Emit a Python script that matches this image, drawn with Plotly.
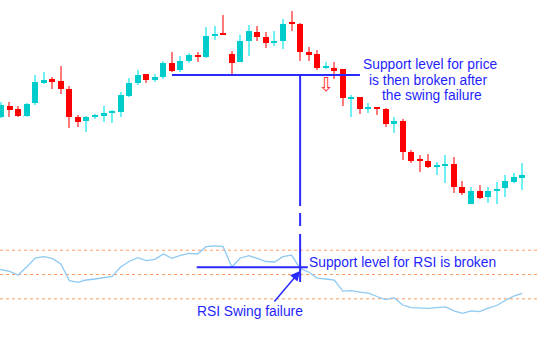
import plotly.graph_objects as go

W, H = 537, 345

candle_index = list(range(62))
open_ = [133, 144.3, 141, 134, 147, 167, 171, 169, 161, 133,
         129, 133, 134, 137, 138, 154, 166.7, 176, 170, 173,
         187.5, 180, 189, 195, 193, 214, 217, 196, 188, 209,
         218, 213, 207, 209, 227, 226, 198, 196, 182.5, 182,
         180.7, 151, 153, 141, 142, 141, 126, 129, 98, 90,
         89, 83, 84.3, 86, 63, 46, 59, 53, 59, 62,
         68, 72]
close = [145, 140, 134, 146, 168, 170, 168, 161, 133, 128,
         133, 135, 137, 138, 155, 167, 175.5, 170, 173, 187.5,
         179, 189, 195, 192.7, 214, 216, 215, 187, 209, 219,
         213, 207, 208.5, 226, 226, 198, 195, 182, 183, 179,
         152, 152.5, 141, 142, 141, 126, 129, 98, 89, 89,
         83, 85, 86.3, 63, 57, 59, 52, 59, 61, 69,
         73, 75]
high = [148, 148, 144, 147, 175, 178, 173, 184, 164, 135,
        134, 136, 144, 140, 158, 172, 180, 176, 176.5, 189,
        198, 194, 197, 198, 223, 224, 235, 199, 215, 225,
        224, 218, 219, 231, 239, 227, 203, 200, 188, 188,
        181, 155, 153, 147, 142, 142, 133, 131, 100, 95,
        96, 88, 95, 93, 69, 63, 65, 63, 68, 75,
        77, 87]
low = [132, 133, 133.5, 133, 145, 166.5, 161, 156, 122, 123,
       118, 131, 128, 127, 133, 153, 165, 167, 168, 171,
       178, 178, 187, 188, 192, 210, 215, 175, 188, 194,
       209, 202, 204, 201, 219, 189, 189, 180, 181, 171,
       144, 133, 136, 137, 135, 123, 117, 90, 87, 78,
       82, 75, 67, 57, 55, 46, 51, 47, 46, 53,
       67, 60]
rsi = [54.1, 52.5, 49.6, 56.2, 63.6, 64.7, 63.2, 58.6, 45.0, 43.6,
       45.5, 46.3, 47.1, 48.4, 56.2, 60.7, 63.8, 61.4, 62.5, 66.9,
       63.3, 65.8, 67.4, 66.9, 72.9, 73.5, 72.9, 56.2, 63.6, 65.5,
       63.2, 60.7, 60.3, 64.7, 66.0, 55.0, 52.1, 47.1, 46.3, 45.5,
       36.4, 36.7, 35.6, 34.6, 31.9, 29.4, 30.9, 24.9, 22.7, 22.3,
       22.2, 22.8, 23.3, 20.1, 18.1, 20.0, 19.4, 22.4, 24.5, 28.6,
       32.3, 34.5]
rsi_levels = [70, 50, 30]
price_support = 175.0
price_support_span = [20, 42]
rsi_support = 56.0
rsi_support_span = [22.9, 35.9]
break_index = 35

labels_price = ["Support level for price", "is then broken after", "the swing failure"]
label_rsi_break = "Support level for RSI is broken"
label_rsi_fail = "RSI Swing failure"

BULL = "#00cccc"
BEAR = "#ff0000"
BULL_WICK = "#6ff0f5"
BEAR_WICK = "#ff7a7a"
BLUE = "#2a2aff"
TXT = "#1f1fff"

bull = [c >= o for o, c in zip(open_, close)]

fig = go.Figure()
# wicks
for flag, col in [(True, BULL_WICK), (False, BEAR_WICK)]:
    xs = [i for i, b in zip(candle_index, bull) if b == flag]
    fig.add_trace(go.Bar(
        x=xs,
        y=[high[i] - low[i] for i in xs],
        base=[low[i] for i in xs],
        width=0.13, marker=dict(color=col, line=dict(width=0)),
        hoverinfo="skip", showlegend=False))
# bodies
for flag, col in [(True, BULL), (False, BEAR)]:
    xs = [i for i, b in zip(candle_index, bull) if b == flag]
    fig.add_trace(go.Bar(
        x=xs,
        y=[max(abs(close[i] - open_[i]), 1.2) for i in xs],
        base=[min(open_[i], close[i]) for i in xs],
        width=0.7, marker=dict(color=col, line=dict(width=0)),
        hoverinfo="skip", showlegend=False))

fig.add_trace(go.Scatter(
    x=[-0.12] + candle_index, y=[rsi[0]] + rsi, yaxis="y2", mode="lines",
    line=dict(color="#8ec9f2", width=1.3), showlegend=False, hoverinfo="skip"))

shapes = []
for lv in rsi_levels:
    shapes.append(dict(type="line", xref="paper", x0=0, x1=1, yref="y2", y0=lv, y1=lv,
                       line=dict(color="#ff9a5c", width=1, dash="dot"), layer="below"))
shapes.append(dict(type="line", xref="x", x0=price_support_span[0], x1=price_support_span[1],
                   yref="y", y0=price_support, y1=price_support, line=dict(color=BLUE, width=2)))
shapes.append(dict(type="line", xref="x", x0=rsi_support_span[0], x1=rsi_support_span[1],
                   yref="y2", y0=rsi_support, y1=rsi_support, line=dict(color=BLUE, width=2)))
# vertical connector (broken)
for a, b in [(74.7, 206), (213, 226), (234, 282)]:
    shapes.append(dict(type="line", xref="x", x0=break_index, x1=break_index,
                       yref="paper", y0=1 - a / H, y1=1 - b / H, line=dict(color=BLUE, width=2)))

F = dict(family="Liberation Sans, Arial", size=13.8, color=TXT)
ann = []
for txt, cx, cy in zip(labels_price, [430.5, 428, 432], [65, 80.7, 96]):
    ann.append(dict(text=txt, xref="paper", yref="paper", x=cx / W, y=1 - cy / H,
                    xanchor="center", yanchor="middle", showarrow=False, font=F))
ann.append(dict(text=label_rsi_break, xref="paper", yref="paper", x=307 / W, y=1 - 262 / H,
                xanchor="left", yanchor="middle", showarrow=False, font=F))
ann.append(dict(text=label_rsi_fail, xref="paper", yref="paper", x=195 / W, y=1 - 311 / H,
                xanchor="left", yanchor="middle", showarrow=False, font=F))
ann.append(dict(text="", xref="x", yref="paper", x=break_index, y=1 - 271 / H,
                ax=-27, ay=32, showarrow=True, arrowhead=2, arrowsize=1.3, arrowwidth=1.5,
                arrowcolor=BLUE))
ann.append(dict(text="⇩", xref="paper", yref="paper", x=326 / W, y=1 - 84 / H,
                xanchor="center", yanchor="middle", showarrow=False,
                font=dict(family="DejaVu Sans", size=19, color="#ff3030")))

fig.update_layout(
    width=W, height=H, margin=dict(l=0, r=0, t=0, b=0),
    paper_bgcolor="white", plot_bgcolor="white",
    barmode="overlay", bargap=0, showlegend=False,
    xaxis=dict(range=[-0.117, 62.72], visible=False, fixedrange=True),
    yaxis=dict(range=[-95, 250], visible=False, fixedrange=True),
    yaxis2=dict(range=[-8.0, 275.9], overlaying="y", visible=False, fixedrange=True),
    shapes=shapes, annotations=ann,
)
fig.write_html("out.html", config={"displayModeBar": False})
